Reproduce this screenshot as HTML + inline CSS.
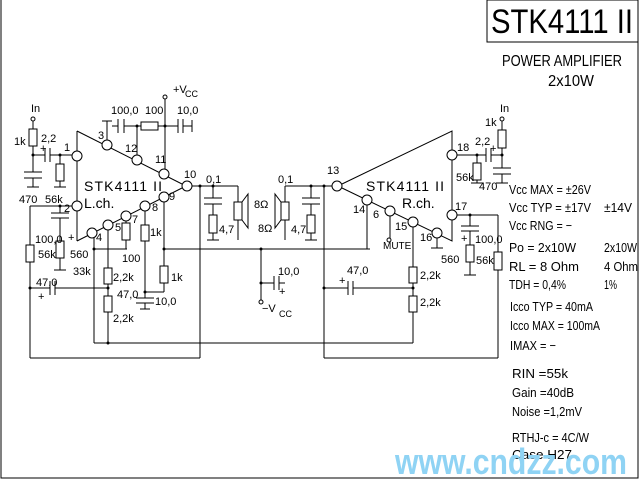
<!DOCTYPE html>
<html><head><meta charset="utf-8"><style>
html,body{margin:0;padding:0;background:#fff;}
svg{display:block;}
text{font-family:"Liberation Sans",sans-serif;fill:#000;}
</style></head><body>
<svg width="640" height="480" viewBox="0 0 640 480" xmlns="http://www.w3.org/2000/svg">
<g stroke="#000" stroke-width="1" fill="none">
<!-- frame -->
<polyline points="1,0 1,478 638,478 638,0"/>
<rect x="487" y="0" width="151" height="42"/>
<!-- Left triangle -->
<polyline points="77,131 182,184"/><polyline points="77,241 182,188"/>
<line x1="77" y1="131" x2="77" y2="241"/>
<!-- Right triangle -->
<polyline points="342,184 452,131 452,241 342,188"/>
</g>
<g stroke="#000" fill="#fff">
<circle cx="77" cy="156" r="5"/><circle cx="77" cy="206" r="5"/>
<circle cx="107" cy="145" r="5"/><circle cx="137" cy="160" r="5"/><circle cx="164" cy="174" r="5"/><circle cx="187" cy="186" r="5"/>
<circle cx="92" cy="233" r="5"/><circle cx="108" cy="225" r="5"/><circle cx="126" cy="216" r="5"/><circle cx="145" cy="206" r="5"/><circle cx="164" cy="197" r="5"/>
<circle cx="337" cy="186" r="5"/><circle cx="452" cy="155" r="5"/><circle cx="452" cy="215" r="5"/>
<circle cx="367" cy="200" r="5"/><circle cx="390" cy="211" r="5"/><circle cx="413" cy="222" r="5"/><circle cx="437" cy="233" r="5"/>
<circle cx="33" cy="119" r="2"/><circle cx="165" cy="97" r="2"/><circle cx="261" cy="302" r="2"/><circle cx="389" cy="240" r="2"/><circle cx="502" cy="119" r="2"/>
</g>
<g stroke="#000" stroke-width="1" fill="none">
<!-- left input -->
<line x1="33" y1="121" x2="33" y2="129"/><rect x="29" y="129" width="8" height="17"/>
<line x1="33" y1="146" x2="33" y2="172"/><line x1="33" y1="155" x2="45" y2="155"/>
<line x1="45" y1="148" x2="45" y2="162"/><line x1="50" y1="148" x2="50" y2="162"/>
<line x1="50" y1="155" x2="72" y2="155"/>
<line x1="24" y1="172" x2="42" y2="172"/><line x1="24" y1="178" x2="42" y2="178"/>
<line x1="33" y1="178" x2="33" y2="187"/><line x1="27" y1="187" x2="39" y2="187"/>
<line x1="60" y1="155" x2="60" y2="164"/><rect x="56" y="164" width="8" height="17"/>
<line x1="60" y1="181" x2="60" y2="187"/><line x1="54" y1="187" x2="66" y2="187"/>
<!-- top -->
<line x1="107" y1="140" x2="107" y2="121"/><line x1="102" y1="121" x2="112" y2="121"/>
<line x1="112" y1="126" x2="118" y2="126"/>
<line x1="118" y1="119" x2="118" y2="133"/><line x1="124" y1="119" x2="124" y2="133"/>
<line x1="124" y1="126" x2="141" y2="126"/><line x1="137" y1="126" x2="137" y2="155"/>
<rect x="141" y="122" width="17" height="8"/><line x1="158" y1="126" x2="178" y2="126"/>
<line x1="165" y1="99" x2="165" y2="169"/>
<line x1="178" y1="119" x2="178" y2="133"/><line x1="183" y1="119" x2="183" y2="133"/>
<line x1="183" y1="126" x2="192" y2="126"/><line x1="192" y1="120" x2="192" y2="132"/>
<!-- left output -->
<line x1="192" y1="186" x2="238" y2="186"/><line x1="238" y1="186" x2="238" y2="202"/>
<line x1="238" y1="220" x2="238" y2="240"/>
<rect x="234" y="202" width="8" height="18"/><polygon points="242,202 248,194 248,228 242,220"/>
<line x1="213" y1="186" x2="213" y2="198"/><line x1="204" y1="198" x2="222" y2="198"/><line x1="204" y1="204" x2="222" y2="204"/>
<line x1="213" y1="204" x2="213" y2="215"/><rect x="209" y="215" width="8" height="18"/>
<line x1="213" y1="233" x2="213" y2="240"/><line x1="207" y1="240" x2="219" y2="240"/>
<line x1="200" y1="186" x2="200" y2="358"/>
<!-- bottom of left -->
<line x1="72" y1="206" x2="30" y2="206"/><line x1="30" y1="206" x2="30" y2="245"/>
<rect x="26" y="245" width="8" height="17"/><line x1="30" y1="262" x2="30" y2="358"/>
<line x1="30" y1="358" x2="200" y2="358"/>
<line x1="60" y1="206" x2="60" y2="213"/><line x1="51" y1="213" x2="69" y2="213"/><line x1="51" y1="218" x2="69" y2="218"/>
<line x1="60" y1="218" x2="60" y2="241"/><rect x="56" y="241" width="8" height="17"/>
<line x1="60" y1="258" x2="60" y2="270"/><line x1="54" y1="270" x2="66" y2="270"/>
<line x1="30" y1="288" x2="50" y2="288"/><line x1="50" y1="281" x2="50" y2="295"/><line x1="55" y1="281" x2="55" y2="295"/>
<line x1="55" y1="288" x2="107" y2="288"/>
<line x1="94" y1="237" x2="94" y2="343"/><line x1="94" y1="343" x2="413" y2="343"/>
<line x1="94" y1="249" x2="127" y2="249"/>
<line x1="126" y1="221" x2="126" y2="223"/><rect x="122" y="223" width="8" height="17"/><line x1="126" y1="240" x2="126" y2="249"/>
<line x1="108" y1="230" x2="108" y2="268"/><rect x="104" y="268" width="8" height="16"/>
<line x1="108" y1="284" x2="108" y2="296"/><rect x="104" y="296" width="8" height="16"/><line x1="108" y1="312" x2="108" y2="343"/>
<line x1="145" y1="211" x2="145" y2="225"/><rect x="141" y="225" width="8" height="16"/><line x1="145" y1="241" x2="145" y2="298"/>
<line x1="136" y1="298" x2="154" y2="298"/><line x1="136" y1="303" x2="154" y2="303"/><line x1="145" y1="303" x2="145" y2="309"/><line x1="140" y1="309" x2="150" y2="309"/>
<line x1="164" y1="202" x2="164" y2="266"/><rect x="160" y="266" width="8" height="17"/><line x1="164" y1="283" x2="164" y2="292"/><line x1="164" y1="292" x2="145" y2="292"/>
<line x1="164" y1="249" x2="370" y2="249"/>
<!-- -Vcc -->
<line x1="261" y1="249" x2="261" y2="300"/><line x1="261" y1="283" x2="274" y2="283"/>
<line x1="274" y1="276" x2="274" y2="290"/><line x1="279" y1="276" x2="279" y2="290"/><line x1="279" y1="283" x2="285" y2="283"/>
<!-- right output -->
<line x1="332" y1="186" x2="285" y2="186"/><line x1="285" y1="186" x2="285" y2="202"/><line x1="285" y1="220" x2="285" y2="240"/>
<rect x="281" y="202" width="8" height="18"/><polygon points="281,202 275,194 275,228 281,220"/>
<line x1="311" y1="186" x2="311" y2="198"/><line x1="302" y1="198" x2="320" y2="198"/><line x1="302" y1="204" x2="320" y2="204"/>
<line x1="311" y1="204" x2="311" y2="215"/><rect x="307" y="215" width="8" height="18"/>
<line x1="311" y1="233" x2="311" y2="240"/><line x1="305" y1="240" x2="317" y2="240"/>
<line x1="324" y1="186" x2="324" y2="358"/><line x1="324" y1="358" x2="498" y2="358"/>
<line x1="367" y1="205" x2="367" y2="249"/>
<line x1="390" y1="216" x2="390" y2="238"/>
<line x1="413" y1="227" x2="413" y2="267"/><rect x="409" y="267" width="8" height="16"/>
<line x1="413" y1="283" x2="413" y2="296"/><rect x="409" y="296" width="8" height="16"/><line x1="413" y1="312" x2="413" y2="343"/>
<line x1="324" y1="288" x2="348" y2="288"/><line x1="348" y1="281" x2="348" y2="295"/><line x1="353" y1="281" x2="353" y2="295"/><line x1="353" y1="288" x2="413" y2="288"/>
<line x1="437" y1="238" x2="437" y2="248"/><line x1="431" y1="248" x2="443" y2="248"/>
<!-- pin 17 -->
<line x1="457" y1="215" x2="498" y2="215"/><line x1="498" y1="215" x2="498" y2="252"/>
<rect x="494" y="252" width="8" height="18"/><line x1="498" y1="270" x2="498" y2="358"/>
<line x1="470" y1="215" x2="470" y2="226"/><line x1="461" y1="226" x2="479" y2="226"/><line x1="461" y1="231" x2="479" y2="231"/>
<line x1="470" y1="231" x2="470" y2="245"/><rect x="466" y="245" width="8" height="17"/>
<line x1="470" y1="262" x2="470" y2="275"/><line x1="464" y1="275" x2="476" y2="275"/>
<!-- right input -->
<line x1="457" y1="155" x2="486" y2="155"/><line x1="486" y1="148" x2="486" y2="162"/><line x1="491" y1="148" x2="491" y2="162"/>
<line x1="491" y1="155" x2="503" y2="155"/>
<line x1="502" y1="121" x2="502" y2="130"/><rect x="498" y="130" width="8" height="18"/><line x1="502" y1="148" x2="502" y2="168"/>
<line x1="493" y1="168" x2="511" y2="168"/><line x1="493" y1="174" x2="511" y2="174"/><line x1="502" y1="174" x2="502" y2="183"/><line x1="496" y1="183" x2="508" y2="183"/>
<line x1="477" y1="155" x2="477" y2="163"/><rect x="473" y="163" width="8" height="17"/><line x1="477" y1="180" x2="477" y2="183"/><line x1="471" y1="183" x2="483" y2="183"/>
</g>
<g fill="#000">
<circle cx="33" cy="155" r="1.5"/><circle cx="60" cy="155" r="1.5"/><circle cx="137" cy="126" r="1.5"/><circle cx="165" cy="126" r="1.5"/>
<circle cx="200" cy="186" r="1.5"/><circle cx="213" cy="186" r="1.5"/><circle cx="60" cy="206" r="1.5"/><circle cx="30" cy="288" r="1.5"/>
<circle cx="108" cy="288" r="1.5"/><circle cx="94" cy="249" r="1.5"/><circle cx="164" cy="249" r="1.5"/><circle cx="145" cy="292" r="1.5"/>
<circle cx="108" cy="343" r="1.5"/><circle cx="261" cy="249" r="1.5"/><circle cx="261" cy="283" r="1.5"/><circle cx="311" cy="186" r="1.5"/>
<circle cx="324" cy="186" r="1.5"/><circle cx="324" cy="288" r="1.5"/><circle cx="413" cy="288" r="1.5"/><circle cx="470" cy="215" r="1.5"/>
<circle cx="477" cy="155" r="1.5"/><circle cx="502" cy="155" r="1.5"/>
</g>
<g font-size="11">
<text x="31" y="112">In</text><text x="500" y="112">In</text>
<text x="14" y="145">1k</text><text x="41" y="142">2,2</text><text x="40" y="152">+</text>
<text x="19" y="203">470</text><text x="45" y="203">56k</text>
<text x="64" y="151">1</text><text x="64" y="212">2</text><text x="98" y="139">3</text><text x="125" y="152">12</text>
<text x="155" y="163">11</text><text x="184" y="178">10</text><text x="169" y="200">9</text><text x="152" y="211">8</text>
<text x="132" y="223">7</text><text x="115" y="231">5</text><text x="96" y="241">4</text>
<text x="111" y="114">100,0</text><text x="145" y="114">100</text><text x="177" y="114">10,0</text>
<text x="173" y="93">+V</text><text x="185" y="97" font-size="9">CC</text>
<text x="206" y="183">0,1</text><text x="219" y="233">4,7</text><text x="254" y="208">8Ω</text>
<text x="35" y="243">100,0</text><text x="68" y="241">+</text><text x="38" y="258">56k</text><text x="70" y="258">560</text>
<text x="73" y="275">33k</text><text x="122" y="262">100</text><text x="113" y="281">2,2k</text><text x="171" y="281">1k</text>
<text x="150" y="236">1k</text><text x="36" y="286">47,0</text><text x="38" y="300">+</text>
<text x="117" y="298">47,0</text><text x="155" y="305">10,0</text><text x="113" y="322">2,2k</text>
<text x="278" y="183">0,1</text><text x="258" y="232">8Ω</text><text x="291" y="233">4,7</text>
<text x="278" y="275">10,0</text><text x="279" y="295">+</text><text x="262" y="312">−V</text><text x="279" y="317" font-size="9">CC</text>
<text x="327" y="174">13</text><text x="353" y="213">14</text><text x="373" y="218">6</text><text x="395" y="230">15</text>
<text x="420" y="241">16</text><text x="383" y="249" font-size="10">MUTE</text>
<text x="347" y="274">47,0</text><text x="339" y="284">+</text><text x="420" y="279">2,2k</text><text x="420" y="306">2,2k</text>
<text x="441" y="263">560</text><text x="476" y="264">56k</text><text x="475" y="243">100,0</text><text x="461" y="242">+</text>
<text x="457" y="151">18</text><text x="455" y="210">17</text><text x="475" y="145">2,2</text><text x="490" y="152">+</text>
<text x="485" y="126">1k</text><text x="456" y="181">56k</text><text x="479" y="190">470</text>
</g>
<g font-size="14">
<text x="84" y="191" textLength="78">STK4111 II</text><text x="84" y="208">L.ch.</text>
<text x="366" y="191" textLength="78">STK4111 II</text><text x="402" y="208">R.ch.</text>
</g>
<text x="491" y="33" font-size="34" textLength="142" lengthAdjust="spacingAndGlyphs">STK4111 II</text>
<text x="502" y="66" font-size="16" textLength="120" lengthAdjust="spacingAndGlyphs">POWER AMPLIFIER</text>
<text x="548" y="86" font-size="16" textLength="46" lengthAdjust="spacingAndGlyphs">2x10W</text>
<g font-size="13">
<text x="509" y="194" textLength="82" lengthAdjust="spacingAndGlyphs">Vcc MAX = ±26V</text>
<text x="509" y="212" textLength="82" lengthAdjust="spacingAndGlyphs">Vcc TYP = ±17V</text>
<text x="604" y="212" textLength="28" lengthAdjust="spacingAndGlyphs">±14V</text>
<text x="509" y="230" textLength="63" lengthAdjust="spacingAndGlyphs">Vcc RNG = −</text>
<text x="509" y="252" textLength="67" lengthAdjust="spacingAndGlyphs">Po = 2x10W</text>
<text x="604" y="252" textLength="33" lengthAdjust="spacingAndGlyphs">2x10W</text>
<text x="509" y="271" textLength="70" lengthAdjust="spacingAndGlyphs">RL = 8 Ohm</text>
<text x="604" y="271" textLength="34" lengthAdjust="spacingAndGlyphs">4 Ohm</text>
<text x="509" y="289" textLength="57" lengthAdjust="spacingAndGlyphs">TDH = 0,4%</text>
<text x="604" y="289" textLength="13" lengthAdjust="spacingAndGlyphs">1%</text>
<text x="510" y="311" textLength="83" lengthAdjust="spacingAndGlyphs">Icco TYP = 40mA</text>
<text x="510" y="330" textLength="90" lengthAdjust="spacingAndGlyphs">Icco MAX = 100mA</text>
<text x="510" y="350" textLength="46" lengthAdjust="spacingAndGlyphs">IMAX =  −</text>
<text x="512" y="378" textLength="56" lengthAdjust="spacingAndGlyphs">RIN =55k</text>
<text x="512" y="397" textLength="62" lengthAdjust="spacingAndGlyphs">Gain =40dB</text>
<text x="512" y="416" textLength="70" lengthAdjust="spacingAndGlyphs">Noise =1,2mV</text>
<text x="512" y="442" textLength="77" lengthAdjust="spacingAndGlyphs">RTHJ-c = 4C/W</text>
<text x="512" y="459" textLength="60" lengthAdjust="spacingAndGlyphs">Case H27</text>
</g>
<text x="395" y="474" font-size="36" font-weight="bold" fill="#8fd3f4" style="fill:#8fd3f4" textLength="232" lengthAdjust="spacingAndGlyphs">www.cndzz.com</text>
</svg>
</body></html>
